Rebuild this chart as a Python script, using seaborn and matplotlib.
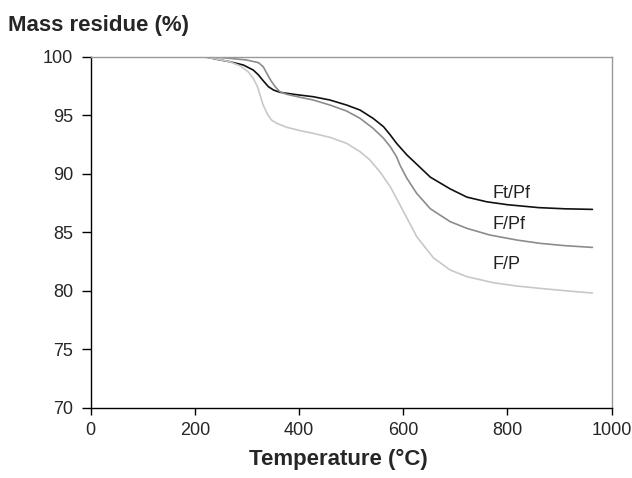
import numpy as np
import pandas as pd
import matplotlib
matplotlib.use('Agg')
import matplotlib.pyplot as plt
import seaborn as sns

# TGA curves
temp_ftpf = [25, 219, 242, 267, 293, 312, 322, 331, 341, 351, 363, 389, 427, 459, 491, 517,
             542, 562, 575, 587, 607, 626, 652, 690, 722, 760, 800, 860, 910, 963]
mass_ftpf = [100, 100, 99.78, 99.57, 99.29, 98.86, 98.44, 97.95, 97.44, 97.15, 96.96, 96.79,
             96.58, 96.30, 95.87, 95.44, 94.73, 94.02, 93.31, 92.60, 91.60, 90.8, 89.7, 88.7,
             88.0, 87.6, 87.35, 87.1, 87.0, 86.95]

temp_fpf = [25, 230, 267, 299, 322, 331, 338, 346, 354, 363, 376, 402, 427, 459, 491, 517,
            542, 562, 575, 587, 594, 607, 626, 652, 690, 722, 766, 818, 862, 910, 963]
mass_fpf = [100, 100, 99.86, 99.72, 99.49, 99.15, 98.58, 97.95, 97.44, 97.01, 96.79, 96.53,
            96.30, 95.87, 95.36, 94.73, 93.88, 93.03, 92.31, 91.45, 90.7, 89.6, 88.3, 87.0,
            85.9, 85.33, 84.76, 84.33, 84.05, 83.85, 83.7]

temp_fp = [25, 210, 235, 267, 287, 302, 312, 320, 325, 331, 339, 347, 357, 376, 402, 427, 459,
           491, 517, 536, 555, 575, 594, 613, 626, 658, 690, 722, 773, 818, 862, 910, 963]
mass_fp = [100, 100, 99.86, 99.57, 99.21, 98.72, 98.15, 97.44, 96.73, 95.87, 95.10, 94.59,
           94.31, 93.97, 93.68, 93.45, 93.11, 92.60, 91.88, 91.17, 90.17, 88.89, 87.3, 85.7,
           84.6, 82.8, 81.77, 81.2, 80.68, 80.4, 80.2, 80.0, 79.8]

series_names = ['Ft/Pf', 'F/Pf', 'F/P']
series_colors = ['#111111', '#8c8c8c', '#c8c8c8']
label_pos = [(771, 88.3), (771, 85.7), (771, 82.2)]

sns.set_style('ticks')
plt.rcParams['font.family'] = ['Liberation Sans', 'DejaVu Sans']

fig = plt.figure(figsize=(6.32, 4.78), dpi=100)
ax = fig.add_axes([90.7 / 632, 1 - 407.7 / 478, 521 / 632, 351 / 478])

curves = [(temp_ftpf, mass_ftpf), (temp_fpf, mass_fpf), (temp_fp, mass_fp)]
for (t, m), name, col in zip(curves, series_names, series_colors):
    df = pd.DataFrame({'Temperature': t, 'Mass': m})
    sns.lineplot(data=df, x='Temperature', y='Mass', color=col, lw=1.2, ax=ax)

for name, (x, y) in zip(series_names, label_pos):
    ax.text(x, y, name, fontsize=13, va='center', ha='left', color='#222222')

ax.set_xlim(0, 1000)
ax.set_ylim(70, 100)
ax.set_xticks(range(0, 1001, 200))
ax.set_yticks(range(70, 101, 5))
ax.tick_params(axis='both', labelsize=13, direction='out', color='black', width=1)
ax.tick_params(axis='x', length=5, pad=5)
ax.tick_params(axis='y', length=6.5, pad=6)

for s in ['left', 'bottom']:
    ax.spines[s].set_color('black')
    ax.spines[s].set_linewidth(1)
for s in ['top', 'right']:
    ax.spines[s].set_color('#999999')
    ax.spines[s].set_linewidth(1)

ax.set_ylabel('')
ax.set_xlabel('Temperature (°C)', fontsize=16, fontweight='bold')
ax.xaxis.set_label_coords(0.475, -0.118)
fig.text(8 / 632, 1 - 26 / 478, 'Mass residue (%)', fontsize=16, fontweight='bold', va='center', ha='left')

fig.savefig('out.png', dpi=100)
